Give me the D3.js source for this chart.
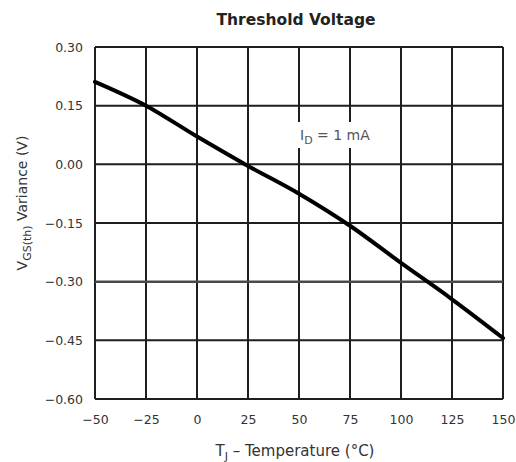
<!DOCTYPE html>
<html>
<head>
<meta charset="utf-8">
<script src="https://cdn.jsdelivr.net/npm/d3@7"></script>
<style>
  html, body { margin: 0; padding: 0; background: #fff; }
  svg { display: block; }
  text { font-family: "DejaVu Sans", "Liberation Sans", Arial, sans-serif; }
</style>
</head>
<body>
<svg id="chart" width="516" height="462"></svg>
<script>
// ---- data ----
const temperatures = [-50, -25, 0, 25, 50, 75, 100, 125, 150];
const variance = [0.211, 0.150, 0.071, -0.004, -0.075, -0.157, -0.252, -0.345, -0.444];
const xTicks = [-50, -25, 0, 25, 50, 75, 100, 125, 150];
const yTicks = [0.30, 0.15, 0.00, -0.15, -0.30, -0.45, -0.60];
const titleText = "Threshold Voltage";

// ---- layout ----
const svg = d3.select("#chart");
const m = { left: 95, right: 503, top: 47, bottom: 399 };

const x = d3.scaleLinear().domain([-50, 150]).range([m.left, m.right]);
const y = d3.scaleLinear().domain([-0.60, 0.30]).range([m.bottom, m.top]);

const fmtY = v => {
  const s = Math.abs(v).toFixed(2);
  return v < -1e-9 ? "\u2212" + s : s;
};
const fmtX = v => (v < 0 ? "\u2212" + Math.abs(v) : String(v));

// grid (vertical)
svg.append("g")
  .selectAll("line")
  .data(xTicks)
  .join("line")
  .attr("x1", d => x(d)).attr("x2", d => x(d))
  .attr("y1", m.top).attr("y2", m.bottom)
  .attr("stroke", "#1e1e1e")
  .attr("stroke-width", 2);

// grid (horizontal)
svg.append("g")
  .selectAll("line")
  .data(yTicks)
  .join("line")
  .attr("x1", m.left).attr("x2", m.right)
  .attr("y1", d => y(d)).attr("y2", d => y(d))
  .attr("stroke", d => (Math.abs(d + 0.30) < 1e-9 ? "#4a4a4a" : "#1e1e1e"))
  .attr("stroke-width", d => (Math.abs(d + 0.30) < 1e-9 ? 2.5 : 2));

// annotation with white background hiding grid
const ann = svg.append("g");
ann.append("rect")
  .attr("x", x(50) - 5).attr("y", 122)
  .attr("width", 90).attr("height", 26)
  .attr("fill", "#fff");
const annText = ann.append("text")
  .attr("x", x(50) + 1).attr("y", 140)
  .attr("fill", "#555")
  .attr("font-size", 14);
annText.append("tspan").text("I");
annText.append("tspan").attr("dy", 4).attr("font-size", 11).text("D");
annText.append("tspan").attr("dy", -4).text(" = 1 mA");

// curve
const line = d3.line()
  .x((d, i) => x(temperatures[i]))
  .y(d => y(d))
  .curve(d3.curveMonotoneX);
svg.append("path")
  .datum(variance)
  .attr("d", line)
  .attr("fill", "none")
  .attr("stroke", "#000")
  .attr("stroke-width", 4)
  .attr("stroke-linecap", "round");

// axes (labels only; grid already drawn)
const xAxis = svg.append("g")
  .attr("transform", `translate(0,${m.bottom})`)
  .call(d3.axisBottom(x).tickValues(xTicks).tickFormat(fmtX).tickSize(0).tickPadding(16));
xAxis.select(".domain").remove();
xAxis.selectAll("text")
  .attr("font-size", 12.5)
  .attr("fill", "#333")
  .style("font-family", "'DejaVu Sans', sans-serif");

const yAxis = svg.append("g")
  .attr("transform", `translate(${m.left},0)`)
  .call(d3.axisLeft(y).tickValues(yTicks).tickFormat(fmtY).tickSize(0).tickPadding(12));
yAxis.select(".domain").remove();
yAxis.selectAll("text")
  .attr("font-size", 12.5)
  .attr("fill", "#333")
  .style("font-family", "'DejaVu Sans', sans-serif");

// title
svg.append("text")
  .attr("x", 296).attr("y", 25)
  .attr("text-anchor", "middle")
  .attr("font-size", 15.5)
  .attr("font-weight", "bold")
  .attr("fill", "#222")
  .text(titleText);

// x label
const xl = svg.append("text")
  .attr("x", 295).attr("y", 456)
  .attr("text-anchor", "middle")
  .attr("font-size", 15)
  .attr("fill", "#333");
xl.append("tspan").text("T");
xl.append("tspan").attr("dy", 4).attr("font-size", 11).text("J");
xl.append("tspan").attr("dy", -4).text(" \u2013 Temperature (\u00B0C)");

// y label
const yl = svg.append("text")
  .attr("transform", "translate(27,203) rotate(-90)")
  .attr("text-anchor", "middle")
  .attr("font-size", 14)
  .attr("fill", "#333");
yl.append("tspan").text("V");
yl.append("tspan").attr("dy", 4).attr("font-size", 11).text("GS(th)");
yl.append("tspan").attr("dy", -4).text(" Variance (V)");
</script>
</body>
</html>
